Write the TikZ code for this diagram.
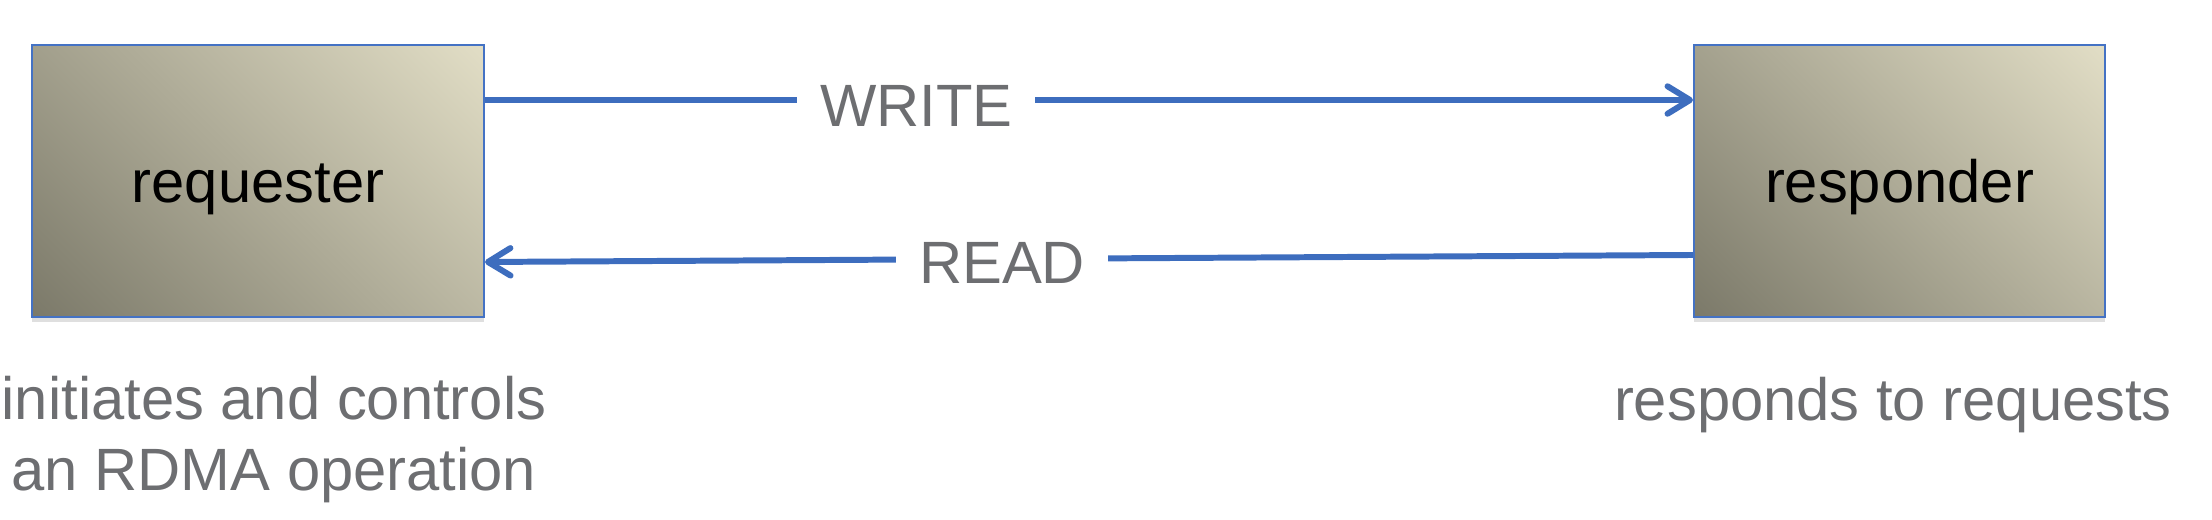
\documentclass[tikz,border=0pt]{standalone}
\usepackage{fontspec}
\setmainfont{Liberation Sans}
\usetikzlibrary{arrows.meta,shadows}
\definecolor{linkblue}{RGB}{61,109,190}
\definecolor{boxedge}{RGB}{68,114,196}
\definecolor{boxlight}{RGB}{225,221,197}
\definecolor{boxdark}{RGB}{124,122,106}
\definecolor{notegrey}{RGB}{109,110,113}
\newcommand{\bigtxt}{\fontsize{34}{40}\selectfont}
\pgfdeclarehorizontalshading{boxfade}{100bp}{color(0bp)=(boxdark); color(15bp)=(boxdark); color(85bp)=(boxlight); color(100bp)=(boxlight)}

\tikzset{
  party/.style={draw=boxedge, line width=1.2pt, shading=boxfade, shading angle=45,
    minimum height=5.44cm, text height=24pt, text depth=0pt, font=\bigtxt,
    drop shadow={shadow xshift=0pt, shadow yshift=-3pt, opacity=0.25}},
  link/.style={linkblue, line width=3.4pt, -{Straight Barb[length=0.45cm, width=0.55cm, round]}},
  linklabel/.style={fill=white, text=notegrey, font=\bigtxt, inner xsep=13pt, inner ysep=2pt},
  note/.style={text=notegrey, align=center, font=\bigtxt}
}

\begin{document}
\begin{tikzpicture}[x=0.02cm,y=-0.02cm]
\useasboundingbox (0,0) rectangle (2212,520);

\node[party, minimum width=9.04cm] (req) at (258,181) {requester};
\node[party, minimum width=8.22cm] (resp) at (1899.5,181) {responder};

\draw[link] ([yshift=1.62cm]req.east) -- node[linklabel, pos=0.357, yshift=-0.12cm] (write) {WRITE} ([yshift=1.62cm]resp.west);
\draw[link] ([yshift=-1.48cm]resp.west) -- node[linklabel, pos=0.572, yshift=-0.08cm] (read) {READ} ([yshift=-1.62cm]req.east);

% notes under the boxes
\node[note, anchor=base] (reqnote) at (274,490) {initiates and controls\\an RDMA operation};
\node[note, anchor=base] (respnote) at (1893,420) {responds to requests};

\end{tikzpicture}
\end{document}
